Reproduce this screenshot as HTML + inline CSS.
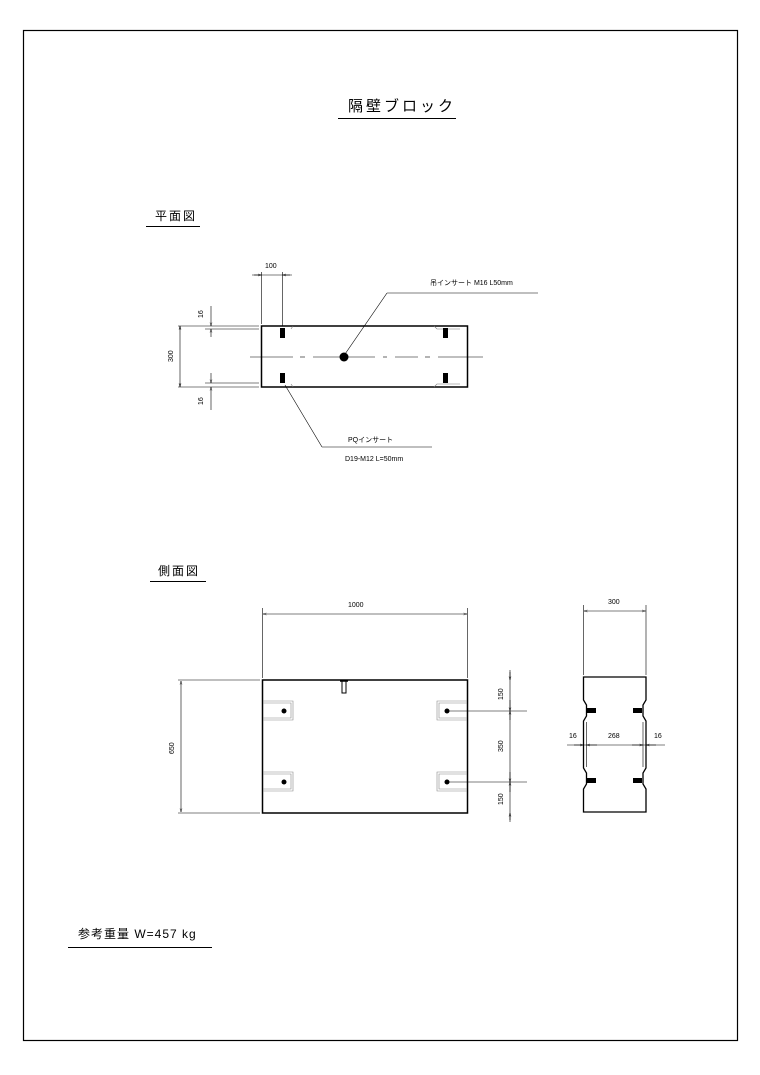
<!DOCTYPE html>
<html><head><meta charset="utf-8"><style>
html,body{margin:0;padding:0;background:#fff;}
svg{display:block;}
text{font-family:"Liberation Sans","Noto Sans CJK JP",sans-serif;fill:#000;}
</style></head><body>
<svg width="760" height="1075" viewBox="0 0 760 1075" xmlns="http://www.w3.org/2000/svg">
<defs>
<marker id="a" viewBox="0 0 10 10" refX="10" refY="5" markerWidth="6" markerHeight="6" orient="auto-start-reverse"><path d="M0,2 L10,5 L0,8" fill="none" stroke="#000" stroke-width="1"/></marker>
</defs>
<rect x="23.5" y="30.5" width="714" height="1010" fill="none" stroke="#000" stroke-width="1.2"/>
<!-- titles -->
<text x="348" y="111" font-size="15" letter-spacing="3">隔壁ブロック</text>
<line x1="338" y1="118.5" x2="456" y2="118.5" stroke="#000"/>
<text x="155" y="220" font-size="12" letter-spacing="2">平面図</text>
<line x1="146" y1="226.5" x2="200" y2="226.5" stroke="#000"/>
<text x="158" y="575" font-size="12" letter-spacing="2">側面図</text>
<line x1="150" y1="581.5" x2="206" y2="581.5" stroke="#000"/>
<text x="78" y="938" font-size="12" letter-spacing="1">参考重量 W=457 kg</text>
<line x1="68" y1="947.5" x2="212" y2="947.5" stroke="#000"/>

<g stroke="#000" fill="none" stroke-width="0.6">
<!-- PLAN -->
<rect x="261.5" y="326" width="206" height="61" stroke-width="1.5"/>
<line x1="250" y1="357" x2="293" y2="357"/><line x1="300" y1="357" x2="305" y2="357"/><line x1="313" y1="357" x2="375" y2="357"/><line x1="383" y1="357" x2="387" y2="357"/>
<line x1="395" y1="357" x2="418" y2="357"/><line x1="425" y1="357" x2="430" y2="357"/><line x1="438" y1="357" x2="483" y2="357"/>
<line x1="261.5" y1="272" x2="261.5" y2="324"/><line x1="282.5" y1="272" x2="282.5" y2="326"/>
<line x1="252" y1="275" x2="292" y2="275"/>
<line x1="254" y1="275" x2="261.5" y2="275" marker-end="url(#a)"/>
<line x1="290" y1="275" x2="282.5" y2="275" marker-end="url(#a)"/>
<line x1="178" y1="326" x2="259" y2="326"/><line x1="178" y1="387" x2="259" y2="387"/>
<line x1="205" y1="329" x2="259" y2="329"/><line x1="205" y1="383" x2="259" y2="383"/>
<line x1="180" y1="330" x2="180" y2="326" marker-end="url(#a)"/><line x1="180" y1="383" x2="180" y2="387" marker-end="url(#a)"/>
<line x1="180" y1="326" x2="180" y2="387"/>
<line x1="211" y1="306" x2="211" y2="326" marker-end="url(#a)"/><line x1="211" y1="337" x2="211" y2="329" marker-end="url(#a)"/>
<line x1="211" y1="373" x2="211" y2="383" marker-end="url(#a)"/><line x1="211" y1="410" x2="211" y2="387" marker-end="url(#a)"/>
<line x1="343" y1="357" x2="387" y2="293"/><line x1="387" y1="293" x2="538" y2="293"/>
<line x1="285" y1="385" x2="322" y2="447"/><line x1="322" y1="447" x2="432" y2="447"/>
<path d="M291,329 L293,326 M434,326 L437,329 L460,329 M291,384 L293,387 M434,387 L437,384 L460,384" stroke="#777"/>
</g>
<g fill="#000">
<circle cx="344" cy="357" r="4.5"/>
<rect x="280" y="328" width="5" height="10"/><rect x="443" y="328" width="5" height="10"/>
<rect x="280" y="373" width="5" height="10"/><rect x="443" y="373" width="5" height="10"/>
</g>
<text x="265" y="268" font-size="7">100</text>
<text x="430" y="285" font-size="7">吊インサート M16 L50mm</text>
<text x="348" y="442" font-size="7">PQインサート</text>
<text x="345" y="461" font-size="7">D19-M12 L=50mm</text>
<text font-size="7" transform="translate(203,318) rotate(-90)">16</text>
<text font-size="7" transform="translate(173,362) rotate(-90)">300</text>
<text font-size="7" transform="translate(203,405) rotate(-90)">16</text>

<g stroke="#000" fill="none" stroke-width="0.6">
<!-- SIDE -->
<rect x="262.5" y="680" width="205" height="133" stroke-width="1.5"/>
<line x1="262.5" y1="608" x2="262.5" y2="678"/><line x1="467.5" y1="608" x2="467.5" y2="678"/>
<line x1="263" y1="614" x2="467" y2="614" marker-start="url(#a)" marker-end="url(#a)"/>
<line x1="178" y1="680" x2="260" y2="680"/><line x1="178" y1="813" x2="260" y2="813"/>
<line x1="181" y1="681" x2="181" y2="812" marker-start="url(#a)" marker-end="url(#a)"/>
<line x1="510" y1="670" x2="510" y2="822"/>
<line x1="510" y1="672" x2="510" y2="680" marker-end="url(#a)"/>
<line x1="510" y1="700" x2="510" y2="711" marker-end="url(#a)"/>
<line x1="510" y1="720" x2="510" y2="711" marker-end="url(#a)"/>
<line x1="510" y1="772" x2="510" y2="782" marker-end="url(#a)"/>
<line x1="510" y1="792" x2="510" y2="782" marker-end="url(#a)"/>
<line x1="510" y1="820" x2="510" y2="813" marker-end="url(#a)"/>
<line x1="447" y1="711" x2="527" y2="711"/><line x1="447" y1="782" x2="527" y2="782"/>
<g stroke="#888"><path d="M263,701 L293,701 L293,720 L263,720 M263,703 L291,703 L291,718 L263,718"/>
<path d="M263,772 L293,772 L293,791 L263,791 M263,774 L291,774 L291,789 L263,789"/>
<path d="M467,701 L437,701 L437,720 L467,720 M467,703 L439,703 L439,718 L467,718"/>
<path d="M467,772 L437,772 L437,791 L467,791 M467,774 L439,774 L439,789 L467,789"/></g>
<rect x="342" y="681" width="4" height="12" stroke-width="1"/>
<line x1="340" y1="681" x2="348" y2="681" stroke-width="1.5"/>
<!-- SECTION -->
<path d="M583.5,677 L646,677 L646,700 L643,705 L643,716 L646,721 L646,768 L643,773 L643,784 L646,789 L646,812 L583.5,812 L583.5,789 L586.5,784 L586.5,773 L583.5,768 L583.5,721 L586.5,716 L586.5,705 L583.5,700 Z" stroke-width="1.3"/>
<line x1="583.5" y1="605" x2="583.5" y2="675"/><line x1="646" y1="605" x2="646" y2="675"/>
<line x1="584" y1="611" x2="645.5" y2="611" marker-start="url(#a)" marker-end="url(#a)"/>
<line x1="567" y1="745" x2="665" y2="745"/>
<line x1="574" y1="745" x2="583.5" y2="745" marker-end="url(#a)"/>
<line x1="597" y1="745" x2="586.5" y2="745" marker-end="url(#a)"/>
<line x1="632" y1="745" x2="643" y2="745" marker-end="url(#a)"/>
<line x1="656" y1="745" x2="646" y2="745" marker-end="url(#a)"/>
<line x1="586.5" y1="722" x2="586.5" y2="767"/><line x1="643" y1="722" x2="643" y2="767"/>
</g>
<g fill="#000">
<circle cx="284" cy="711" r="2.5"/><circle cx="284" cy="782" r="2.5"/>
<circle cx="447" cy="711" r="2.5"/><circle cx="447" cy="782" r="2.5"/>
<rect x="587" y="708" width="9" height="5"/><rect x="633" y="708" width="9" height="5"/>
<rect x="587" y="778" width="9" height="5"/><rect x="633" y="778" width="9" height="5"/>
</g>
<text x="348" y="607" font-size="7">1000</text>
<text font-size="7" transform="translate(174,754) rotate(-90)">650</text>
<text font-size="7" transform="translate(503,700) rotate(-90)">150</text>
<text font-size="7" transform="translate(503,752) rotate(-90)">350</text>
<text font-size="7" transform="translate(503,805) rotate(-90)">150</text>
<text x="608" y="604" font-size="7">300</text>
<text x="569" y="738" font-size="7">16</text>
<text x="608" y="738" font-size="7">268</text>
<text x="654" y="738" font-size="7">16</text>
</svg>
</body></html>
